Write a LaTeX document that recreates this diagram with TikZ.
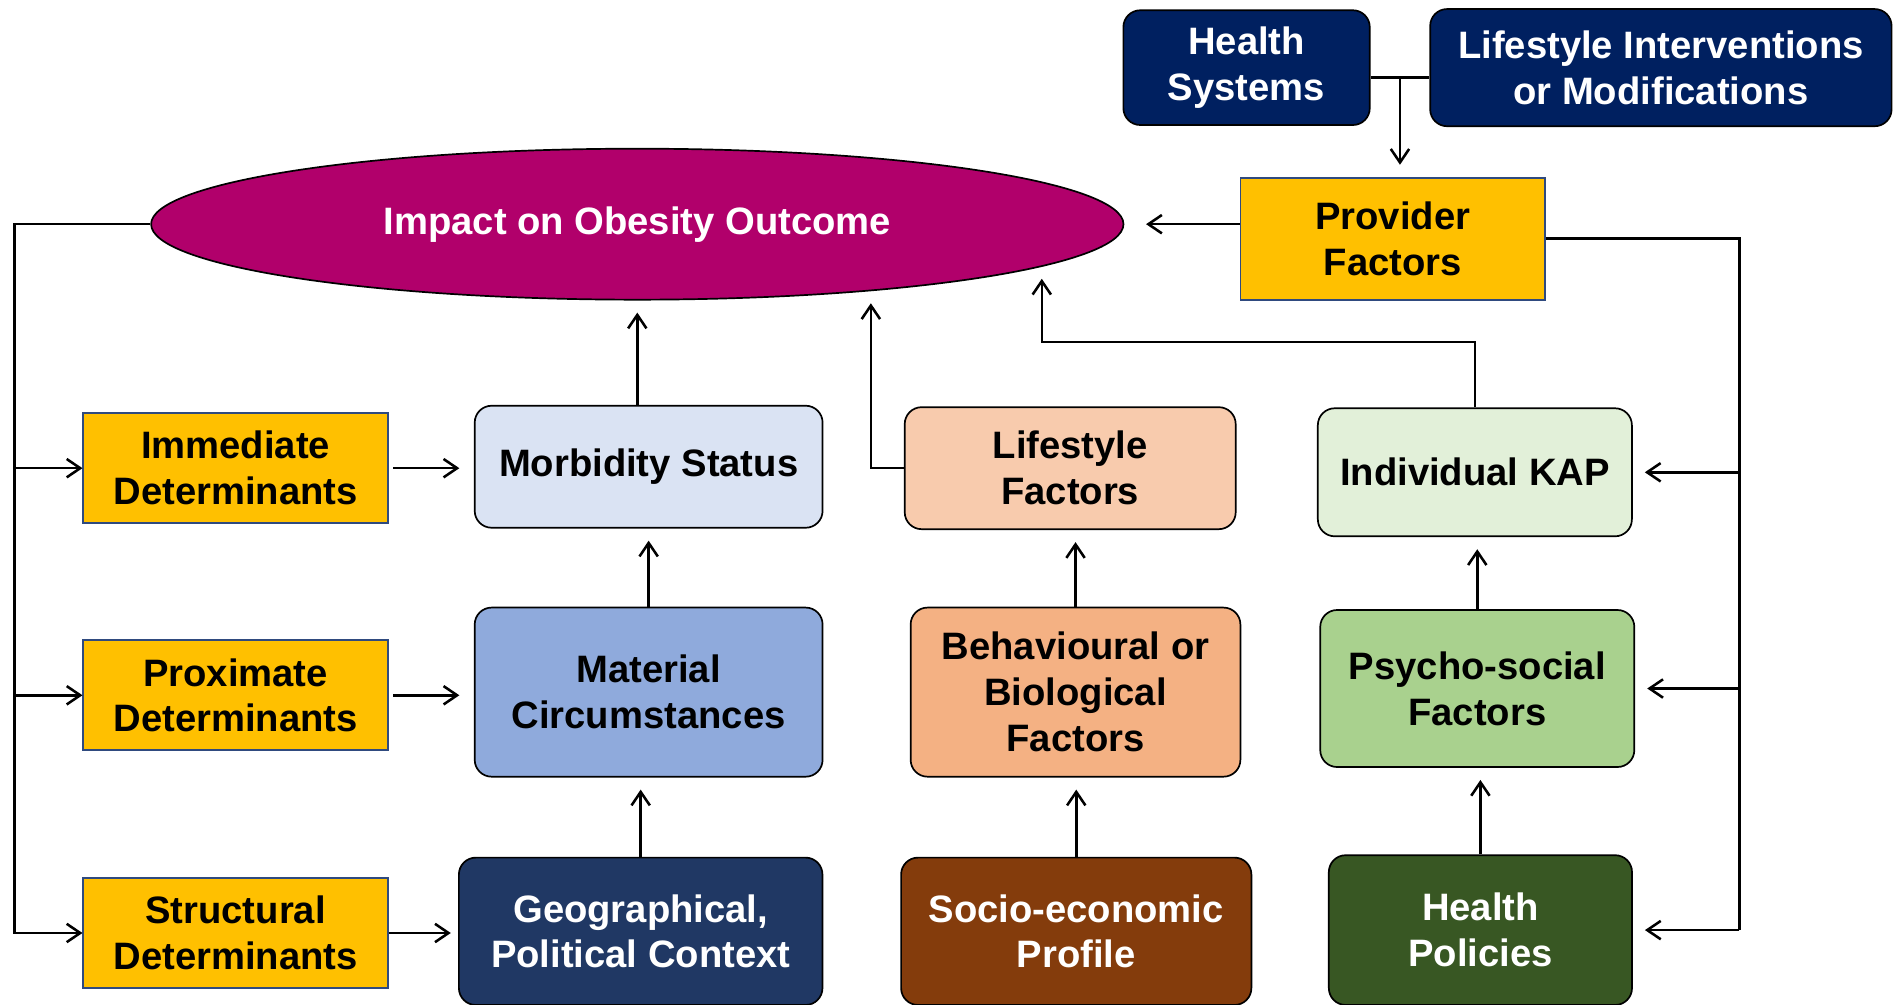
\documentclass[tikz,border=0pt]{standalone}
\usepackage{fontspec}
\setmainfont{Liberation Sans}
\usepackage{xcolor}
\usetikzlibrary{shapes,arrows.meta,positioning,calc}

\definecolor{navy}{HTML}{002060}
\definecolor{berry}{HTML}{B1006B}
\definecolor{detfill}{HTML}{FFC000}
\definecolor{detline}{HTML}{2F4A7F}
\definecolor{morfill}{HTML}{DAE3F3}
\definecolor{matfill}{HTML}{8FAADC}
\definecolor{geofill}{HTML}{203864}
\definecolor{lffill}{HTML}{F8CBAD}
\definecolor{bbfill}{HTML}{F4B183}
\definecolor{sefill}{HTML}{843C0C}
\definecolor{kapfill}{HTML}{E2F0D9}
\definecolor{psfill}{HTML}{A9D18E}
\definecolor{hpfill}{HTML}{385723}

\begin{document}
\begin{tikzpicture}[
    txt/.style={align=center, font=\bfseries\fontsize{22.5}{27}\selectfont},
    box/.style={txt, draw, rounded corners=0.35cm, line width=1pt},
    det/.style={txt, draw=detline, fill=detfill, line width=1pt, minimum width=6.3cm, minimum height=2.275cm},
    arrow/.style={-{Straight Barb[length=2.8mm,width=3.8mm]}, line width=1.5pt, shorten >=0.25cm},
    link/.style={line width=1.5pt}
]
\useasboundingbox (0,0) rectangle (39.2,20.8);

% Interventions
\node[box, fill=navy, text=white, minimum width=5.1cm, minimum height=2.375cm] (hs) at (25.8,19.4) {Health\\Systems};
\node[box, fill=navy, text=white, minimum width=9.55cm, minimum height=2.425cm] (li) at (34.375,19.4) {Lifestyle Interventions\\or Modifications};

% Provider
\node[det, minimum height=2.525cm] (prov) at (28.825,15.86) {Provider\\Factors};

% Outcome
\node[draw, ellipse, fill=berry, text=white, line width=1pt, inner sep=0pt, minimum width=20.125cm, minimum height=3.125cm, txt] (impact) at (13.19,16.16) {Impact on Obesity Outcome};

% Determinants
\node[det] (id) at (4.875,11.11) {Immediate\\Determinants};
\node[det] (pd) at (4.875,6.41) {Proximate\\Determinants};
\node[det] (sd) at (4.875,1.49) {Structural\\Determinants};

% Column 1
\node[box, fill=morfill, minimum width=7.2cm, minimum height=2.525cm] (mor) at (13.425,11.14) {Morbidity Status};
\node[box, fill=matfill, minimum width=7.2cm, minimum height=3.5cm] (mat) at (13.425,6.475) {Material\\Circumstances};
\node[box, fill=geofill, text=white, minimum width=7.525cm, minimum height=3.05cm] (geo) at (13.26,1.525) {Geographical,\\Political Context};

% Column 2
\node[box, fill=lffill, minimum width=6.85cm, minimum height=2.525cm] (lf) at (22.15,11.11) {Lifestyle\\Factors};
\node[box, fill=bbfill, minimum width=6.825cm, minimum height=3.5cm] (bb) at (22.26,6.475) {Behavioural or\\Biological\\Factors};
\node[box, fill=sefill, text=white, minimum width=7.25cm, minimum height=3.05cm] (se) at (22.275,1.525) {Socio-economic\\Profile};

% Column 3
\node[box, fill=kapfill, minimum width=6.5cm, minimum height=2.65cm] (kap) at (30.525,11.025) {Individual KAP};
\node[box, fill=psfill, minimum width=6.5cm, minimum height=3.25cm] (ps) at (30.575,6.55) {Psycho-social\\Factors};
\node[box, fill=hpfill, text=white, minimum width=6.275cm, minimum height=3.1cm] (hp) at (30.64,1.55) {Health\\Policies};

% Bus lines
\coordinate (lbus) at (0.3,0);
\coordinate (rbus) at (36,0);
\coordinate (hsout) at ([yshift=-0.2cm]hs.east);
\coordinate (liin) at ([yshift=-0.2cm]li.west);
\coordinate (split) at ($(hsout)!0.5!(liin)$);

% Arrows
\draw[link] (hsout) -- (liin);
\draw[arrow] (split) -- (split |- prov.north);
\draw[arrow, shorten >=0.45cm] (prov.west |- impact.east) -- (impact.east);

\draw[arrow, shorten >=0pt] (impact.west) -- (impact.west -| lbus) |- (sd.west);
\draw[arrow, shorten >=0pt] (id.west -| lbus) -- (id.west);
\draw[arrow, shorten >=0pt] (pd.west -| lbus) -- (pd.west);

\draw[link] (prov.east) -- (prov.east -| rbus) -- (rbus |- hp.east);
\draw[arrow] (rbus |- kap.east) -- (kap.east);
\draw[arrow] (rbus |- ps.east) -- (ps.east);
\draw[arrow] (rbus |- hp.east) -- (hp.east);

\draw[arrow, shorten <=0.1cm, shorten >=0.3cm] (id.east) -- (id.east -| mor.west);
\draw[arrow, shorten <=0.1cm, shorten >=0.3cm] (pd.east) -- (pd.east -| mat.west);
\draw[arrow, shorten >=0.15cm] (sd.east) -- (sd.east -| geo.west);

\draw[arrow] (impact.south |- mor.north) -- (impact.south);
\draw[arrow] (lf.west) -| (impact.-16.3);
\draw[arrow] (kap.north) -- ++(0,1.35) -| (impact.-6.45);

\draw[arrow] (mat.north) -- (mat.north |- mor.south);
\draw[arrow] (geo.north) -- (geo.north |- mat.south);
\draw[arrow] (bb.north) -- (bb.north |- lf.south);
\draw[arrow] (se.north) -- (se.north |- bb.south);
\draw[arrow] (ps.north) -- (ps.north |- kap.south);
\draw[arrow] (hp.north) -- (hp.north |- ps.south);

\end{tikzpicture}
\end{document}
